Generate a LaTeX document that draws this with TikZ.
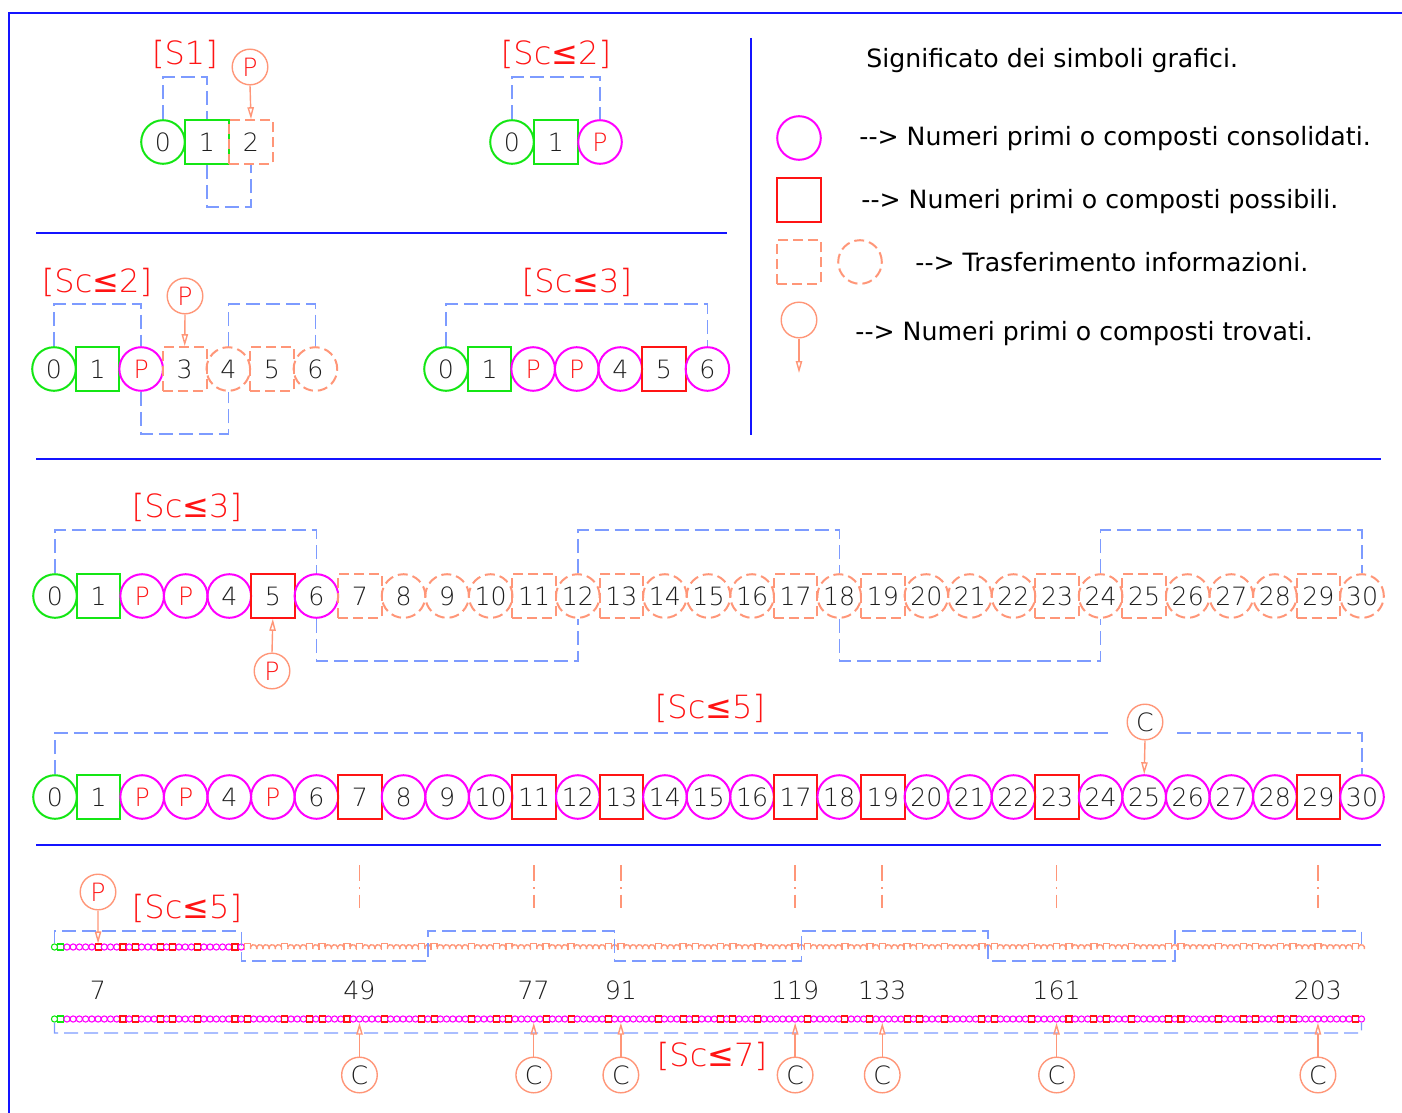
\documentclass[tikz,border=0pt]{standalone}
\usepackage{fontspec}
\setmainfont{DejaVu Sans}
\newfontfamily\regfont{DejaVu Sans}
\IfFontExistsTF{DejaVu Sans ExtraLight}
  {\newfontfamily\thinfont{DejaVu Sans ExtraLight}}
  {\newfontfamily\thinfont{DejaVu Sans}}
\usetikzlibrary{arrows.meta}

\definecolor{cgreen}{RGB}{20,230,20}
\definecolor{cmag}{RGB}{255,0,255}
\definecolor{cred}{RGB}{255,20,20}
\definecolor{corange}{RGB}{255,150,120}
\definecolor{cblue}{RGB}{125,155,255}
\definecolor{cframe}{RGB}{20,20,255}
\definecolor{ctext}{RGB}{30,30,30}

\newcommand\cellfont{\thinfont\fontsize{12.6}{14}\selectfont}
\newcommand\labfont{\thinfont\fontsize{16}{18}\selectfont}
\newcommand\legfont{\regfont\fontsize{12.6}{15}\selectfont}
\newcommand\Pmark{\textcolor{cred}{P}}
\newcommand\lesym{{\regfont ≤}}
\newcommand\arrowsym{-\kern0pt-\kern0pt>}

\begin{document}
\begin{tikzpicture}[x=0.5pt,y=-0.5pt,
  cellbase/.style={inner sep=0pt,minimum size=21.8pt,line width=1pt,text=ctext,font=\cellfont},
  gcirc/.style={cellbase,circle,draw=cgreen},
  gsq/.style={cellbase,rectangle,draw=cgreen},
  mcirc/.style={cellbase,circle,draw=cmag},
  rsq/.style={cellbase,rectangle,draw=cred},
  ocirc/.style={cellbase,circle,draw=corange,dash pattern=on 5pt off 2.5pt},
  osq/.style={cellbase,rectangle,draw=corange,dash pattern=on 5pt off 2.5pt},
  marker/.style={circle,draw=corange,line width=0.7pt,minimum size=17.8pt,inner sep=0pt,font=\cellfont,text=ctext},
  found/.style={draw=corange,line width=0.7pt,-{Triangle[open,length=6pt,width=3.2pt]}},
  bracket/.style={draw=cblue,line width=0.7pt,dash pattern=on 7pt off 3pt},
  tick/.style={draw=corange,line width=0.8pt,dash pattern=on 8pt off 3pt on 0.8pt off 3pt},
  trans/.style={draw=corange,line width=0.7pt},
  sieve/.style={font=\labfont,text=cred,inner sep=0pt},
  sepline/.style={draw=cframe,line width=0.9pt},
  legend/.style={font=\legfont,text=black,anchor=base west,inner sep=0pt},
  tcirc/.style={circle,inner sep=0pt,minimum size=3.1pt,line width=0.55pt},
  tsq/.style={rectangle,inner sep=0pt,minimum size=3pt,line width=0.55pt}]

\useasboundingbox (0,0) rectangle (1402,1113);

% outer frame and separators
\draw[cframe,line width=1pt] (9,1113) -- (9,13) -- (1402,13);
\draw[sepline] (36,233) -- (727,233);
\draw[sepline] (751,38) -- (751,435);
\draw[sepline] (36,459) -- (1381,459);
\draw[sepline] (36,845) -- (1381,845);

% ---------- step S1 ----------
\node[sieve] (l1) at (185,54) {[S1]};
\node[gcirc] (a0) at (163,142) {0};
\node[gsq] (a1) at (207,142) {1};
\node[osq] (a2) at (251,142) {2};
\node[marker] (pa) at (250,67) {\Pmark};
\draw[found] (pa.south) -- (a2.north);
\draw[bracket] (a0.north) |- (a1.north |- 0,77) -- (a1.north);
\draw[bracket] (a1.south) |- (a2.south |- 0,207) -- (a2.south);

% ---------- step Sc<=2 (result) ----------
\node[sieve] (l2) at (556,54) {[Sc\lesym2]};
\node[gcirc] (b0) at (512,142) {0};
\node[gsq] (b1) at (556,142) {1};
\node[mcirc] (b2) at (600,142) {\Pmark};
\draw[bracket] (b0.north) |- (b2.north |- 0,77) -- (b2.north);

% ---------- step Sc<=2 (transfer) ----------
\node[sieve] (l3) at (97,282) {[Sc\lesym2]};
\foreach \n/\s/\t in {0/gcirc/0,1/gsq/1,2/mcirc/\Pmark,3/osq/3,4/ocirc/4,5/osq/5,6/ocirc/6}
  \node[\s] (c\n) at (54+\n*43.57,369) {\t};
\node[marker] (pc) at (185,296) {\Pmark};
\draw[found] (pc.south) -- (c3.north);
\draw[bracket] (c0.north) |- (c2.north |- 0,304) -- (c2.north);
\draw[bracket] (c2.south) |- (c4.south |- 0,434) -- (c4.south);
\draw[bracket] (c4.north) |- (c6.north |- 0,304) -- (c6.north);

% ---------- step Sc<=3 (result) ----------
\node[sieve] (l4) at (577,282) {[Sc\lesym3]};
\foreach \n/\s/\t in {0/gcirc/0,1/gsq/1,2/mcirc/\Pmark,3/mcirc/\Pmark,4/mcirc/4,5/rsq/5,6/mcirc/6}
  \node[\s] (d\n) at (446+\n*43.57,369) {\t};
\draw[bracket] (d0.north) |- (d6.north |- 0,304) -- (d6.north);

% ---------- legend ----------
\node[legend] (lh) at (866,68) {Significato dei simboli grafici.};
\node[mcirc] (k1) at (799,138) {};
\node[legend] (t1) at (859,146) {\arrowsym{} Numeri primi o composti consolidati.};
\node[rsq] (k2) at (799,200) {};
\node[legend] (t2) at (861,208) {\arrowsym{} Numeri primi o composti possibili.};
\node[osq] (k3) at (799,262) {};
\node[ocirc] (k3b) at (860,262) {};
\node[legend] (t3) at (915,271) {\arrowsym{} Trasferimento informazioni.};
\node[marker] (k4) at (799,320) {};
\coordinate (k4e) at (799,373);
\draw[found] (k4.south) -- (k4e);
\node[legend] (t4) at (855,340) {\arrowsym{} Numeri primi o composti trovati.};

% ---------- step Sc<=3 over 0..30 ----------
\node[sieve] (l5) at (187,507) {[Sc\lesym3]};
\foreach \n/\s/\t in {0/gcirc/0,1/gsq/1,2/mcirc/\Pmark,3/mcirc/\Pmark,4/mcirc/4,5/rsq/5,6/mcirc/6,
  7/osq/7,8/ocirc/8,9/ocirc/9,10/ocirc/10,11/osq/11,12/ocirc/12,13/osq/13,14/ocirc/14,
  15/ocirc/15,16/ocirc/16,17/osq/17,18/ocirc/18,19/osq/19,20/ocirc/20,21/ocirc/21,
  22/ocirc/22,23/osq/23,24/ocirc/24,25/osq/25,26/ocirc/26,27/ocirc/27,28/ocirc/28,
  29/osq/29,30/ocirc/30}
  \node[\s] (u\n) at (55+\n*43.567,596) {\t};
\node[marker] (pu) at (272,671) {\Pmark};
\draw[found] (pu.north) -- (u5.south);
\draw[bracket] (u0.north) |- (u6.north |- 0,530) -- (u6.north);
\draw[bracket] (u6.south) |- (u12.south |- 0,661) -- (u12.south);
\draw[bracket] (u12.north) |- (u18.north |- 0,530) -- (u18.north);
\draw[bracket] (u18.south) |- (u24.south |- 0,661) -- (u24.south);
\draw[bracket] (u24.north) |- (u30.north |- 0,530) -- (u30.north);

% ---------- step Sc<=5 over 0..30 ----------
\node[sieve] (l6) at (710,708) {[Sc\lesym5]};
\foreach \n/\s/\t in {0/gcirc/0,1/gsq/1,2/mcirc/\Pmark,3/mcirc/\Pmark,4/mcirc/4,5/mcirc/\Pmark,6/mcirc/6,
  7/rsq/7,8/mcirc/8,9/mcirc/9,10/mcirc/10,11/rsq/11,12/mcirc/12,13/rsq/13,14/mcirc/14,
  15/mcirc/15,16/mcirc/16,17/rsq/17,18/mcirc/18,19/rsq/19,20/mcirc/20,21/mcirc/21,
  22/mcirc/22,23/rsq/23,24/mcirc/24,25/mcirc/25,26/mcirc/26,27/mcirc/27,28/mcirc/28,
  29/rsq/29,30/mcirc/30}
  \node[\s] (v\n) at (55+\n*43.567,797) {\t};
\node[marker] (cv) at (1145,722) {C};
\draw[found] (cv.south) -- (v25.north);
\draw[bracket] (v0.north) |- (1112,733);
\draw[bracket] (1177,733) -| (v30.north);

% ---------- step Sc<=5 over 0..210 ----------
\node[sieve] (l7) at (187,908) {[Sc\lesym5]};
\foreach \n in {0,...,30}{
  \pgfmathsetmacro\xx{54.5+\n*6.2238}
  \ifnum\n=0 \node[tcirc,draw=cgreen] (s\n) at (\xx,947) {};
  \else\ifnum\n=1 \node[tsq,draw=cgreen] (s\n) at (\xx,947) {};
  \else
    \pgfmathtruncatemacro\g{gcd(\n,30)}
    \ifnum\g=1 \node[tsq,draw=cred] (s\n) at (\xx,947) {};
    \else \node[tcirc,draw=cmag] (s\n) at (\xx,947) {};
    \fi
  \fi\fi
}
% transferred copies 31..210: tiny dashed shapes, only their upper parts show
\foreach \n in {31,...,210}{
  \pgfmathsetmacro\xx{54.5+\n*6.2238}
  \pgfmathtruncatemacro\g{gcd(\n,30)}
  \ifnum\g=1 \draw[trans] (\xx-3,950) -- (\xx-3,943.5) -- (\xx+3,943.5) -- (\xx+3,947);
  \else \draw[trans] (\xx-3.1,949) arc[start angle=160,end angle=380,radius=3.2];
  \fi
}
\node[marker] (ps) at (98,892) {\Pmark};
\draw[found] (ps.south) -- (s7.north);
\draw[bracket] (s0.north) -- (54.5,931) -- (241.2,931) -- (241.2,961) -- (427.9,961)
  -- (427.9,931) -- (614.6,931) -- (614.6,961) -- (801.4,961) -- (801.4,931)
  -- (988.1,931) -- (988.1,961) -- (1174.8,961) -- (1174.8,931) -- (1361.5,931)
  -- (1361.5,944);

% ---------- step Sc<=7 over 0..210 ----------
\node[sieve] (l8) at (712,1056) {[Sc\lesym7]};
\foreach \n in {0,...,210}{
  \pgfmathsetmacro\xx{54.5+\n*6.2238}
  \ifnum\n=0 \node[tcirc,draw=cgreen] (w\n) at (\xx,1019) {};
  \else\ifnum\n=1 \node[tsq,draw=cgreen] (w\n) at (\xx,1019) {};
  \else
    \pgfmathtruncatemacro\g{gcd(\n,210)}
    \ifnum\g=1 \node[tsq,draw=cred] (w\n) at (\xx,1019) {};
    \else \node[tcirc,draw=cmag] (w\n) at (\xx,1019) {};
    \fi
  \fi\fi
}
\draw[bracket] (w0.south) |- (1361.5,1033) -- (w210.south);
\node[font=\cellfont,text=ctext] (n7) at (98,990) {7};
\foreach \n in {49,77,91,119,133,161,203}{
  \node[font=\cellfont,text=ctext] (n\n) at (54.5+\n*6.2238,990) {\n};
  \draw[tick] (54.5+\n*6.2238,865) -- (54.5+\n*6.2238,908);
  \node[marker] (cm\n) at (54.5+\n*6.2238,1075) {C};
  \draw[found] (cm\n.north) -- (w\n.south);
}
\end{tikzpicture}
\end{document}
